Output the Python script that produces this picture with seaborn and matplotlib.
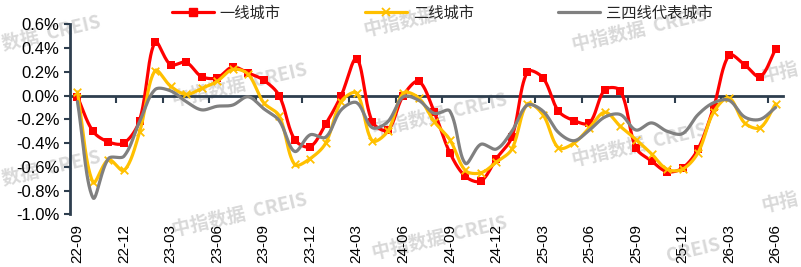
import numpy as np
import pandas as pd
import matplotlib
matplotlib.use("Agg")
import matplotlib.pyplot as plt
import seaborn as sns
from matplotlib.lines import Line2D

# ---------------- data ----------------
months = ["22-09", "22-10", "22-11", "22-12", "23-01", "23-02", "23-03", "23-04",
          "23-05", "23-06", "23-07", "23-08", "23-09", "23-10", "23-11", "23-12",
          "24-01", "24-02", "24-03", "24-04", "24-05", "24-06", "24-07", "24-08",
          "24-09", "24-10", "24-11", "24-12", "25-01", "25-02", "25-03", "25-04",
          "25-05", "25-06", "25-07", "25-08", "25-09", "25-10", "25-11", "25-12",
          "26-01", "26-02", "26-03", "26-04", "26-05", "26-06"]

tier1 = [-0.01, -0.30, -0.39, -0.40, -0.21, 0.45, 0.26, 0.28, 0.16, 0.15,
         0.24, 0.19, 0.13, 0.00, -0.37, -0.43, -0.24, 0.00, 0.31, -0.22,
         -0.29, 0.00, 0.12, -0.14, -0.48, -0.68, -0.72, -0.53, -0.35, 0.20,
         0.15, -0.13, -0.21, -0.23, 0.05, 0.04, -0.44, -0.55, -0.64, -0.61,
         -0.45, -0.10, 0.34, 0.26, 0.16, 0.39]

tier2 = [0.03, -0.73, -0.54, -0.63, -0.31, 0.21, 0.08, 0.01, 0.06, 0.12,
         0.22, 0.18, -0.06, -0.17, -0.58, -0.53, -0.40, -0.05, 0.02, -0.38,
         -0.30, 0.02, -0.02, -0.22, -0.37, -0.63, -0.65, -0.56, -0.45, -0.07,
         -0.16, -0.44, -0.40, -0.27, -0.14, -0.26, -0.37, -0.49, -0.62, -0.62,
         -0.48, -0.14, -0.02, -0.23, -0.27, -0.07]

tier34 = [-0.05, -0.86, -0.53, -0.51, -0.22, 0.05, 0.04, -0.05, -0.12, -0.09,
          -0.08, -0.01, -0.11, -0.21, -0.47, -0.33, -0.35, -0.12, -0.06, -0.27,
          -0.22, -0.01, -0.04, -0.15, -0.13, -0.57, -0.41, -0.45, -0.30, -0.08,
          -0.13, -0.31, -0.38, -0.29, -0.18, -0.16, -0.29, -0.23, -0.30, -0.32,
          -0.16, -0.06, -0.04, -0.18, -0.20, -0.10]

series_names = ["一线城市", "二线城市", "三四线代表城市"]
tick_labels = months[::3]
ytick_values = [-1.0, -0.8, -0.6, -0.4, -0.2, 0.0, 0.2, 0.4, 0.6]
watermark_full = "中指数据  CREIS"
watermark_left = "数据  CREIS"
watermark_top = "中指数据"
watermark_bottom = "CREIS"
watermark_right = "中指"

# ---------------- style ----------------
sns.set_theme(style="white")
plt.rcParams["font.family"] = ["Liberation Sans", "Noto Sans CJK SC", "DejaVu Sans"]

RED = "#FF0000"
YEL = "#FFC000"
GRY = "#808080"
AXC = "#2E3E4E"
WMC = "#d9d9d9"

# approximate screen scale (px per x-step, px per 1%) used for chord-length smoothing
SX, SY = 15.5, 118.75


def smooth(vals, n=30, tension=1 / 3):
    """Excel-like smoothed line: cubic Bezier with chord-length scaled control points."""
    y = np.asarray(vals, float)
    N = len(y)
    x = np.arange(N, dtype=float)
    P = np.column_stack([x * SX, y * SY])
    cin = P.copy()
    cout = P.copy()
    for i in range(N):
        p0 = P[max(i - 1, 0)]
        p2 = P[min(i + 1, N - 1)]
        d01 = np.linalg.norm(P[i] - p0)
        d12 = np.linalg.norm(p2 - P[i])
        tot = d01 + d12
        if tot == 0:
            continue
        fa = tension * d01 / tot
        fb = tension * d12 / tot
        cin[i] = P[i] - fa * (p2 - p0)
        cout[i] = P[i] + fb * (p2 - p0)
    t = np.linspace(0, 1, n, endpoint=False)[:, None]
    segs = []
    for i in range(N - 1):
        a, b, c, d = P[i], cout[i], cin[i + 1], P[i + 1]
        seg = (1 - t) ** 3 * a + 3 * (1 - t) ** 2 * t * b + 3 * (1 - t) * t ** 2 * c + t ** 3 * d
        segs.append(seg)
    segs.append(P[-1][None, :])
    out = np.vstack(segs)
    return out[:, 0] / SX, out[:, 1] / SY


fig = plt.figure(figsize=(8.01, 2.67), dpi=100)
ax = fig.add_axes([0.087, 0.197, 0.891, 0.712])
ax.patch.set_alpha(0)

# watermarks (behind the chart); edge ones show only their visible fragment
wm_specs = [
    (watermark_left, 2, 45, "left"),
    (watermark_left, 2, 180, "left"),
    (watermark_full, 240, 85, "center"),
    (watermark_full, 240, 215, "center"),
    (watermark_top, 400, 22, "center"),
    (watermark_full, 440, 115, "center"),
    (watermark_full, 440, 238, "center"),
    (watermark_full, 640, 30, "center"),
    (watermark_full, 640, 145, "center"),
    (watermark_bottom, 693, 250, "center"),
    (watermark_right, 798, 68, "right"),
    (watermark_right, 798, 198, "right"),
]
for txt, px, py, ha in wm_specs:
    fig.text(px / 801, 1 - py / 267, txt, rotation=13, ha=ha, va="center",
             rotation_mode="anchor", fontsize=13.5, fontweight="bold", color=WMC,
             family=["Noto Sans CJK SC", "DejaVu Sans"], zorder=-1)

x_idx = np.arange(len(months))
specs = [
    (series_names[0], tier1, RED, "s", 34, 0.0),
    (series_names[1], tier2, YEL, "x", 30, 1.3),
    (series_names[2], tier34, GRY, None, 0, 0.0),
]
z = 3
for name, vals, col, mk, ms, mlw in specs:
    sx, sy = smooth(vals)
    dense = pd.DataFrame({"x": sx, "y": sy})
    sns.lineplot(data=dense, x="x", y="y", ax=ax, color=col, linewidth=2.3,
                 sort=False, estimator=None, zorder=z)
    if mk is not None:
        pts = pd.DataFrame({"x": x_idx, "y": vals})
        if mk == "x":
            sns.scatterplot(data=pts, x="x", y="y", ax=ax, marker="x", s=ms,
                            color=col, linewidth=mlw, zorder=z + 0.5)
        else:
            sns.scatterplot(data=pts, x="x", y="y", ax=ax, marker=mk, s=ms,
                            color=col, edgecolor=col, linewidth=0, zorder=z + 0.5)
    z += 1

ax.set_xlim(-0.5, len(months) - 0.5)
ax.set_ylim(-1.0, 0.6)
ax.set_xlabel("")
ax.set_ylabel("")

# y axis
ax.set_yticks(ytick_values)
ax.set_yticklabels([f"{v:.1f}%" for v in ytick_values])
ax.tick_params(axis="y", left=True, direction="out", length=4.5, width=1.5,
               color=AXC, labelsize=12, pad=3, labelcolor="black")

# x tick labels at bottom
ax.set_xticks(x_idx[::3])
ax.set_xticklabels(tick_labels, rotation=90)
ax.tick_params(axis="x", bottom=False, length=0, labelsize=11, pad=7,
               labelcolor="black")

for s in ["top", "right", "bottom"]:
    ax.spines[s].set_visible(False)
ax.spines["left"].set_color(AXC)
ax.spines["left"].set_linewidth(2)

# category axis crossing at zero, tick marks between categories
zero_frac = (0 - (-1.0)) / 1.6
sec = ax.secondary_xaxis(zero_frac)
sec.set_alignment("bottom")
sec.set_xticks(x_idx[3::3] - 0.5)
sec.tick_params(axis="x", bottom=True, top=False, direction="out", length=5,
                width=1.5, color=AXC, labelbottom=False, labeltop=False)
sec.spines["bottom"].set_color(AXC)
sec.spines["bottom"].set_linewidth(2)
sec.spines["top"].set_visible(False)

# legend
handles = [
    Line2D([], [], color=RED, linewidth=2.3, marker="s", markersize=6),
    Line2D([], [], color=YEL, linewidth=2.3, marker="x", markersize=6, markeredgewidth=1.3),
    Line2D([], [], color=GRY, linewidth=2.3),
]
leg = fig.legend(handles, series_names, loc="center", bbox_to_anchor=(0.552, 0.951),
                 ncol=3, frameon=False, handlelength=2.75,
                 handletextpad=0.4, columnspacing=5.5, borderaxespad=0,
                 prop={"family": ["Noto Sans CJK SC", "DejaVu Sans"], "size": 11})

fig.savefig("out.png", dpi=100)
